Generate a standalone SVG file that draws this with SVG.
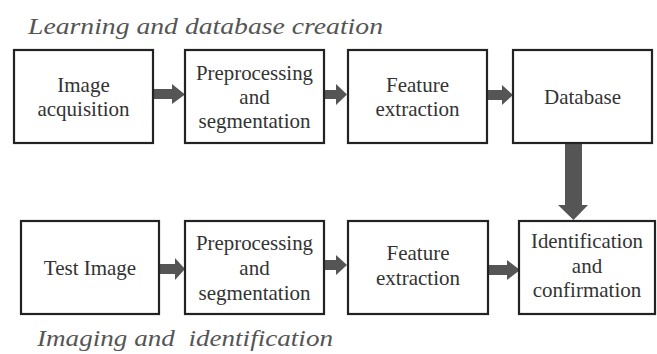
<svg xmlns="http://www.w3.org/2000/svg" width="657" height="354" viewBox="0 0 657 354">
<style>
.box{fill:#fff;stroke:#222;stroke-width:2.2}
.t{font-family:'Liberation Serif','Times New Roman','DejaVu Serif',serif;font-size:21px;fill:#333;text-anchor:middle}
.title{font-family:'Liberation Serif','Times New Roman','DejaVu Serif',serif;font-style:italic;font-size:23px;fill:#555}
.arr{fill:#555}
</style>
<rect width="657" height="354" fill="#fff"/>
<text class="title" font-family="Liberation Serif, serif" x="28" y="34" textLength="355" lengthAdjust="spacingAndGlyphs">Learning and database creation</text>
<text class="title" font-family="Liberation Serif, serif" x="37" y="346" textLength="296" lengthAdjust="spacingAndGlyphs" xml:space="preserve">Imaging and  identification</text>

<g id="connectors">
<polygon class="arr" points="153,89 172,89 172,84 185,94.5 172,104 172,99 153,99"/>
<polygon class="arr" points="324,90 336,90 336,84 347,94.5 336,105 336,99 324,99"/>
<polygon class="arr" points="487,90 502,90 502,85 513,95 502,105 502,100 487,100"/>
<polygon class="arr" points="565,143 582,143 582,205 588,205 573.5,220 558,205 565,205"/>
<polygon class="arr" points="159,264 175,264 175,258 185,269 175,280 175,274 159,274"/>
<polygon class="arr" points="324,260 336,260 336,255 347,265 336,275 336,270 324,270"/>
<polygon class="arr" points="488,265 507,265 507,260 520,270 507,280 507,275 488,275"/>
</g>

<g id="n1"><rect class="box" x="14" y="50" width="139" height="93"/>
<text class="t" x="83.5" y="92">Image</text><text class="t" x="83.5" y="116">acquisition</text></g>
<g id="n2"><rect class="box" x="185" y="50" width="139" height="93"/>
<text class="t" x="254.5" y="80" textLength="117" lengthAdjust="spacingAndGlyphs">Preprocessing</text><text class="t" x="254.5" y="104">and</text><text class="t" x="254.5" y="128" textLength="112" lengthAdjust="spacingAndGlyphs">segmentation</text></g>
<g id="n3"><rect class="box" x="348" y="50" width="139" height="93"/>
<text class="t" x="417.5" y="92">Feature</text><text class="t" x="417.5" y="116">extraction</text></g>
<g id="n4"><rect class="box" x="513" y="50" width="139" height="93"/>
<text class="t" x="582.5" y="104">Database</text></g>

<g id="n5"><rect class="box" x="21" y="221" width="138" height="93"/>
<text class="t" x="90" y="275">Test Image</text></g>
<g id="n6"><rect class="box" x="185" y="221" width="139" height="93"/>
<text class="t" x="254.5" y="250" textLength="117" lengthAdjust="spacingAndGlyphs">Preprocessing</text><text class="t" x="254.5" y="275">and</text><text class="t" x="254.5" y="300" textLength="112" lengthAdjust="spacingAndGlyphs">segmentation</text></g>
<g id="n7"><rect class="box" x="348" y="221" width="140" height="93"/>
<text class="t" x="418" y="260">Feature</text><text class="t" x="418" y="285">extraction</text></g>
<g id="n8"><rect class="box" x="519" y="221" width="136" height="93"/>
<text class="t" x="587" y="248" textLength="112" lengthAdjust="spacingAndGlyphs">Identification</text><text class="t" x="587" y="273">and</text><text class="t" x="587" y="297">confirmation</text></g>
</svg>
